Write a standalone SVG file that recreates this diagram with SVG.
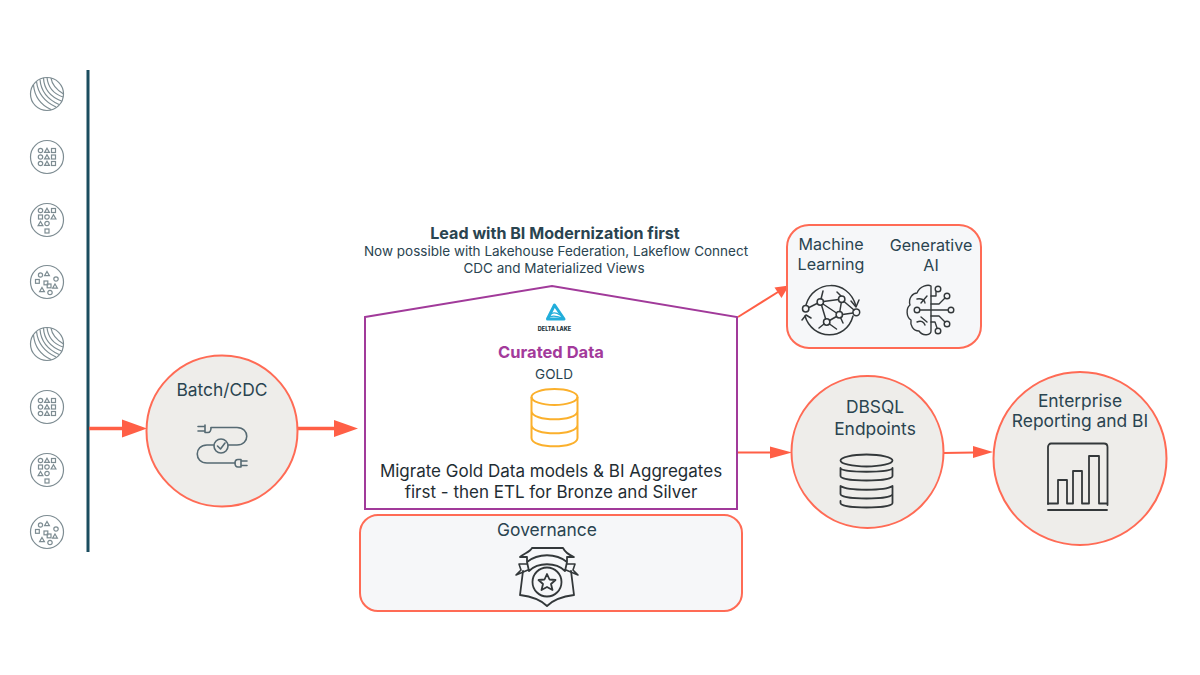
<svg xmlns="http://www.w3.org/2000/svg" width="1200" height="675" viewBox="0 0 1200 675">
<style>
text{font-family:"Inter","Noto Sans","Liberation Sans",sans-serif;fill:#2a4450;text-anchor:middle}
.t{font-size:17.400px}
.m{font-size:16.100px}
.n{fill:#eeedea;stroke:#ff6b55;stroke-width:2}
.b{fill:#f6f7f9;stroke:#ff6b55;stroke-width:2}
.i{fill:none;stroke:#7d8c92;stroke-width:1.200}
.d{fill:none;stroke:#33383a;stroke-width:1.800;stroke-linejoin:round;stroke-linecap:round}
.c{fill:none;stroke:#ff5f46;stroke-width:2}
.c3{fill:none;stroke:#ff5f46;stroke-width:3.500}
.h{fill:#ff5f46}
.g{fill:none;stroke:#fbb02c;stroke-width:2}
.s{fill:none;stroke:#566a73;stroke-width:1.600;stroke-linecap:round;stroke-linejoin:round}
</style>
<defs>
<g id="delta" class="i">
<circle r="16.500"/>
<path d="M-13.500-9C-12.500 2-6 11 4 15.500M-10.500-12.500C-9 0-2 8 9 13M-7-14.500C-6-2 2 6 12 10.500M-3.500-16C-3-5 4 3 14.500 7M0-16.500C1-7 7 0 16 3M4-16C5-9 10-4 16.500 0"/>
</g>
<g id="grid" class="i">
<circle r="16.500"/>
<circle cx="-6.500" cy="-6.500" r="2.200"/><path d="M0-8.800 2.400-4.600H-2.400Z"/><rect x="4.500" y="-8.500" width="4" height="4"/>
<circle cx="-6.500" cy="0" r="2.200"/><path d="M0-2.300 2.400 1.900H-2.400Z"/><rect x="4.500" y="-2" width="4" height="4"/>
<circle cx="-6.500" cy="6.500" r="2.200"/><path d="M0 4.200 2.400 8.400H-2.400Z"/><rect x="4.500" y="4.500" width="4" height="4"/>
</g>
<g id="tri" class="i">
<circle r="16.500"/>
<circle cx="-6.500" cy="-9.500" r="2.200"/><path d="M0-11.800 2.400-7.600H-2.400Z"/><rect x="4.500" y="-11.500" width="4" height="4"/>
<rect x="-8.500" y="-5" width="4" height="4"/><circle cx="0" cy="-3" r="2.200"/><path d="M6.500-5.200 8.900-1H4.100Z"/>
<path d="M-6.500 1.500 -4.100 5.700H-8.900Z"/><circle cx="0" cy="3.500" r="2.200"/>
<rect x="-2" y="9" width="4" height="4"/>
</g>
<g id="scatter" class="i">
<circle r="16.500"/>
<circle cx="-6.500" cy="-7" r="2.100"/><path d="M0-10.500 2.400-6.300H-2.400Z"/><circle cx="9" cy="-3" r="2.200"/>
<rect x="-11.500" y="-2.500" width="3.800" height="3.800"/><rect x="-3" y="-1" width="3.800" height="3.800"/><rect x="0.200" y="2" width="3.800" height="3.800"/>
<path d="M8 2 10.400 6.200H5.600Z"/><path d="M-5 5.500 -2.600 9.700H-7.400Z"/><circle cx="3" cy="10.500" r="2.200"/>
</g>
</defs>

<g id="sources">
<path d="M88 70V552" fill="none" stroke="#1b4d5f" stroke-width="3"/>
<use href="#delta" x="47" y="94"/>
<use href="#grid" x="47" y="157"/>
<use href="#tri" x="47" y="220"/>
<use href="#scatter" x="47" y="282"/>
<use href="#delta" x="47" y="344"/>
<use href="#grid" x="47" y="407"/>
<use href="#tri" x="47" y="470"/>
<use href="#scatter" x="47" y="532"/>
</g>

<g id="connectors">
<path class="c3" d="M89 428.500H125"/><path class="h" d="M122 419.500 147 428.500 122 437.500Z"/>
<path class="c3" d="M297 428.500H337"/><path class="h" d="M334 420 358 428.500 334 437Z"/>
<path class="c" d="M738 317 778 292"/><path class="h" d="M789 285.500 781.500 298 774.500 287.500Z"/>
<path class="c" d="M737 452.500H772"/><path class="h" d="M770 446.500 792 452.500 770 458.500Z"/>
<path class="c" d="M943 453 975 452.500"/><path class="h" d="M973 446 993 452 973 458Z"/>
</g>

<g id="batch">
<circle class="n" cx="222" cy="431" r="75.500"/>
<text class="t" x="222" y="396">Batch/CDC</text>
<g class="s">
<path d="M198 426.500H205M198 431H205M205 425V432.500H208C210 432.500 211 430 211 428"/>
<path d="M211 427.500H237C250 427.500 250 445 237 445H228"/>
<circle cx="221" cy="446" r="7"/>
<path d="M217.500 446 220.500 449 225 443"/>
<path d="M214 445H207C194 445 194 463 207 463H235"/>
<path d="M235 463C235 461 236 459.500 238 459.500H241V467H238C236 467 235 465 235 463ZM241 461H247M241 465.500H247"/>
</g>
</g>

<g id="house">
<path d="M365 317 552 286 737 317V509H365Z" fill="#fff" stroke="#a13a9a" stroke-width="2"/>
<path d="M554.500 305 564 319H547.500Z" fill="none" stroke="#22aedb" stroke-width="3" stroke-linejoin="round"/>
<path d="M547 318C552 315 558 316 564 319M551 314C554 312 557 313 560 315" fill="none" stroke="#22aedb" stroke-width="1.200"/>
<text x="554.500" y="331" style="font-size:5.500px;font-weight:800;fill:#1b3139">DELTA LAKE</text>
<text x="551" y="358" style="font-size:16.500px;font-weight:700;fill:#a33a9b">Curated Data</text>
<text x="554" y="379" style="font-size:13.500px">GOLD</text>
<g class="g">
<ellipse cx="554.500" cy="397" rx="23" ry="8"/>
<path d="M531.500 397V438C531.500 449 577.500 449 577.500 438V397M531.500 411C531.500 422 577.500 422 577.500 411M531.500 425C531.500 436 577.500 436 577.500 425"/>
</g>
<text x="551" y="477" style="font-size:17px;fill:#1f2d33">Migrate Gold Data models &amp; BI Aggregates</text>
<text x="551" y="498" style="font-size:17px;fill:#1f2d33">first - then ETL for Bronze and Silver</text>
</g>

<g id="heading">
<text x="555" y="239" style="font-size:16.100px;font-weight:700">Lead with BI Modernization first</text>
<text x="556" y="256" style="font-size:13.500px">Now possible with Lakehouse Federation, Lakeflow Connect</text>
<text x="554" y="273" style="font-size:13.500px">CDC and Materialized Views</text>
</g>

<g id="governance">
<rect class="b" x="360" y="515" width="382" height="96" rx="18"/>
<text class="t" x="547" y="536">Governance</text>
<g class="d">
<path d="M523 571 520 595C528 596 540 599 547 606C554 599 566 596 574 595L571 571"/>
<path d="M527 561V557L520 557C525 553 530 552 532 548H563C565 552 569 555 574 557L567 557V561"/>
<path d="M527 562C538 553 556 553 567 562L565 571C556 562 538 562 529 571Z"/>
<path d="M527 564 519 564 521 570 516 575 528 570M567 564 575 564 573 570 578 575 566 570" style="stroke-width:1.600"/>
<circle cx="547" cy="582" r="14.500"/>
<path d="M547 574 549.500 579.500 555.500 580 551 584 552.500 590 547 587 541.500 590 543 584 538.500 580 544.500 579.500Z"/>
</g>
</g>

<g id="ai">
<rect class="b" x="787" y="225" width="194" height="123" rx="22"/>
<text class="m" x="831" y="250">Machine</text>
<text class="m" x="831" y="270">Learning</text>
<text class="m" x="931" y="251">Generative</text>
<text class="m" x="931" y="271">AI</text>
<g class="d" style="stroke-width:1.500">
<path d="M806 305C813 280 848 278 856 306M853 316C846 342 812 340 805 316"/>
<path d="M851 301 856 307 859 300M802 320 806 315 811 318"/>
<circle cx="805.700" cy="308.700" r="3.200"/><circle cx="820.300" cy="302" r="3.200"/><circle cx="841.700" cy="299.300" r="3.200"/><circle cx="856.300" cy="312.300" r="3.400"/><circle cx="839.300" cy="314.700" r="3.200"/><circle cx="826.700" cy="322" r="3.200"/>
<path d="M809 307.500 817 303.500M823.500 301.500 838.500 299.500M823 304 836.500 313M821.500 305 825.700 319M841.300 302.500 839.800 311.500M836.500 316.500 829.500 320.500M842.500 314.500 853 313M844 301.500 854 310M824 324 819 328M829.500 324 836.500 329M821 299 823 291M841 296 837 292M840.500 317.500 843 323"/>
</g>
<g class="d" style="stroke-width:1.400">
<path d="M931 286V331C931 335 923 337 919 331C913 331 910 325 911 320C906 317 906 308 910 305C908 298 913 293 917 293C920 286 928 284 931 286Z"/>
<path d="M917 299C921 298 925 300 925 303M917 322C921 320 924 322 925 325M921 303 927 296M921 317 927 322"/>
<circle cx="917" cy="310" r="2.800"/><circle cx="951" cy="310" r="2.800"/><circle cx="947" cy="296" r="2.800"/><circle cx="938" cy="289" r="2.800"/><circle cx="947" cy="324" r="2.800"/><circle cx="938" cy="331" r="2.800"/>
<path d="M920 310H948M931 304H939L945 298M931 296H936V292M931 316H939L945 322M931 322H935L937 328"/>
</g>
</g>

<g id="dbsql">
<circle class="n" cx="867.500" cy="452" r="76"/>
<text class="t" x="875" y="413">DBSQL</text>
<text class="t" x="875" y="435">Endpoints</text>
<g class="d">
<ellipse cx="866.500" cy="460.500" rx="26" ry="6"/>
<path d="M840.500 468V476C840.500 482 892.500 482 892.500 476V468C892.500 473 840.500 473 840.500 468Z"/>
<path d="M840.500 486V494C840.500 500 892.500 500 892.500 494V486C885 491 848 491 840.500 486Z"/>
<path d="M840.500 501V503C840.500 509 892.500 509 892.500 503V495"/>
</g>
</g>

<g id="reporting">
<circle class="n" cx="1080" cy="458.500" r="86.500"/>
<text class="t" x="1080" y="407">Enterprise</text>
<text class="t" x="1080" y="427">Reporting and BI</text>
<g class="d">
<path d="M1048 504V447C1048 445 1049.500 443.500 1051 443.500H1104C1106 443.500 1107.500 445 1107.500 447V505"/>
<path d="M1048 503.500H1058V480H1067V503.500H1073V471H1082V503.500H1089V456H1099V503.500H1107"/>
<path d="M1048 510H1107"/>
</g>
</g>
</svg>
